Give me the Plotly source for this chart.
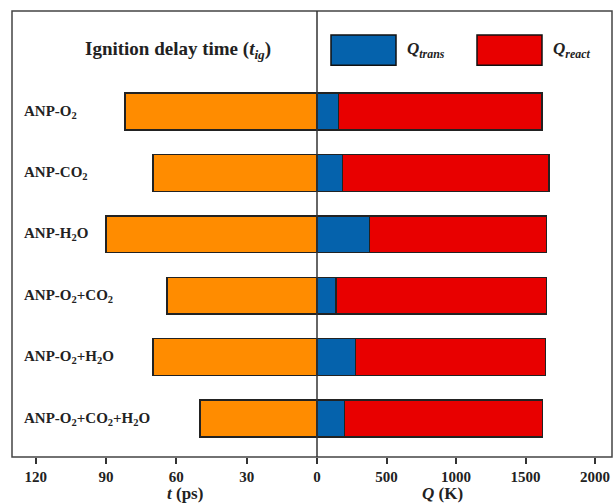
import plotly.graph_objects as go

categories = ["ANP-O<sub>2</sub>", "ANP-CO<sub>2</sub>", "ANP-H<sub>2</sub>O",
              "ANP-O<sub>2</sub>+CO<sub>2</sub>", "ANP-O<sub>2</sub>+H<sub>2</sub>O",
              "ANP-O<sub>2</sub>+CO<sub>2</sub>+H<sub>2</sub>O"]
t_ig = [82, 70, 90, 64, 70, 50]
q_trans = [156, 183, 379, 135, 278, 199]
q_react = [1463, 1486, 1271, 1515, 1365, 1422]
t_ticks = [120, 90, 60, 30]
q_ticks = [0, 500, 1000, 1500, 2000]

ORANGE = "#FF8C00"
BLUE = "#0562AC"
RED = "#E80000"
EDGE = "#222222"
FONT = "Liberation Serif"

W, H = 614, 504
ml, mr, mt, mb = 12, 2, 11, 47
pw = W - ml - mr
split = (317 - ml) / pw

fig = go.Figure()
ypos = list(range(len(categories)))
fig.add_trace(go.Bar(y=ypos, x=t_ig, orientation="h", xaxis="x", yaxis="y",
                     marker=dict(color=ORANGE, line=dict(color=EDGE, width=1.5)),
                     width=0.6, showlegend=False))
fig.add_trace(go.Bar(y=ypos, x=q_trans, orientation="h", xaxis="x2", yaxis="y",
                     marker=dict(color=BLUE, line=dict(color=EDGE, width=1.5)),
                     width=0.6, showlegend=False))
fig.add_trace(go.Bar(y=ypos, x=q_react, orientation="h", xaxis="x2", yaxis="y",
                     marker=dict(color=RED, line=dict(color=EDGE, width=1.5)),
                     width=0.6, showlegend=False))

tickfont = dict(family=FONT, size=15, color="#222")
fig.update_layout(
    width=W, height=H, margin=dict(l=ml, r=mr, t=mt, b=mb),
    plot_bgcolor="white", paper_bgcolor="white", barmode="stack",
    xaxis=dict(domain=[0, split], range=[130.1, 0], tickvals=t_ticks,
               ticktext=[f"<b>{v}</b>" for v in t_ticks], ticks="outside",
               ticklen=6, tickwidth=1.5, tickcolor="#333", tickfont=tickfont,
               showgrid=False, zeroline=False, showline=False, anchor="y"),
    xaxis2=dict(domain=[split, 1], range=[0, 2122], tickvals=q_ticks,
                ticktext=[f"<b>{v}</b>" for v in q_ticks], ticks="outside",
                ticklen=6, tickwidth=1.5, tickcolor="#333", tickfont=tickfont,
                showgrid=False, zeroline=False, showline=False, anchor="y"),
    yaxis=dict(range=[len(categories) - 1 + 0.627, -1.637], showticklabels=False,
               showgrid=False, zeroline=False, showline=False, ticks=""),
)

# frame and divider
fig.add_shape(type="rect", xref="paper", yref="paper", x0=0, x1=1, y0=0, y1=1,
              line=dict(color="#444", width=1.5), layer="above")
fig.add_shape(type="line", xref="paper", yref="paper", x0=split, x1=split, y0=0, y1=1,
              line=dict(color="#333", width=1.5), layer="above")

# category labels
for i, c in enumerate(categories):
    fig.add_annotation(x=(22 - ml) / pw, xref="paper", y=i, yref="y", text=f"<b>{c}</b>",
                       showarrow=False, xanchor="left", yanchor="middle",
                       font=dict(family=FONT, size=15, color="#222"))

# header text
fig.add_annotation(x=(178 - ml) / pw, xref="paper", y=-1.0, yref="y", xanchor="center",
                   text="<b>Ignition delay time (<i>t</i><sub><i>ig</i></sub>)</b>",
                   showarrow=False, font=dict(family=FONT, size=19, color="#222"))

# legend boxes (drawn)
for (x0, x1, col, lab) in [(331, 396, BLUE, "<b><i>Q</i></b><sub><b><i>trans</i></b></sub>"),
                           (477, 542, RED, "<b><i>Q</i></b><sub><b><i>react</i></b></sub>")]:
    fig.add_shape(type="rect", xref="paper", yref="y",
                  x0=(x0 - ml) / pw, x1=(x1 - ml) / pw, y0=-1.0 - 0.245, y1=-1.0 + 0.245,
                  fillcolor=col, line=dict(color="#111", width=1.5))
    fig.add_annotation(x=(x1 + 9 - ml) / pw, xref="paper", y=-1.0, yref="y", text=lab,
                       showarrow=False, xanchor="left",
                       font=dict(family=FONT, size=17, color="#222"))

# axis titles
fig.add_annotation(x=split / 2, xref="paper", y=0, yref="paper", yanchor="top", yshift=-25,
                   text="<b><i>t</i> (ps)</b>", showarrow=False,
                   font=dict(family=FONT, size=17, color="#222"))
fig.add_annotation(x=split + (1 - split) / 2, xref="paper", y=0, yref="paper", yanchor="top",
                   yshift=-25, text="<b><i>Q</i> (K)</b>", showarrow=False,
                   font=dict(family=FONT, size=17, color="#222"))

fig.write_html("out.html")
